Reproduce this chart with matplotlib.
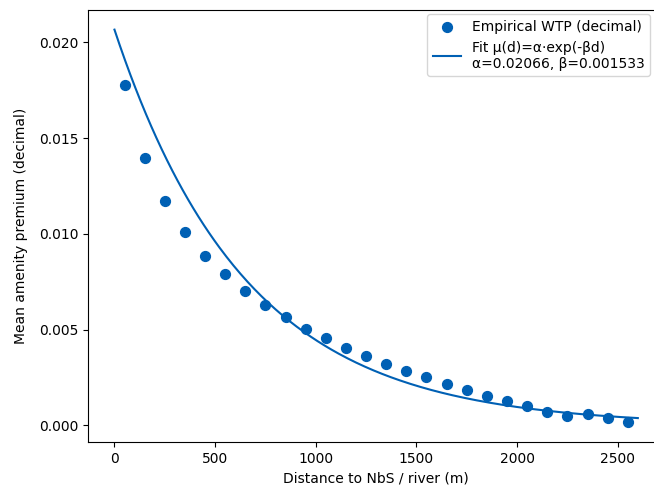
import matplotlib
matplotlib.use("Agg")
import matplotlib.pyplot as plt
import numpy as np

# binned distances (m) and empirical WTP
distance = [50, 150, 250, 350, 450, 550, 650, 750, 850, 950, 1050, 1150, 1250,
            1350, 1450, 1550, 1650, 1750, 1850, 1950, 2050, 2150, 2250, 2350,
            2450, 2550]
wtp = [0.01776, 0.01394, 0.01171, 0.01011, 0.00887, 0.00788, 0.00704,
       0.00627, 0.00568, 0.00505, 0.00455, 0.00406, 0.00361, 0.00323,
       0.00282, 0.00251, 0.00216, 0.00183, 0.00155, 0.00128, 0.00099,
       0.00072, 0.00049, 0.00061, 0.00039, 0.00016]

alpha = 0.02066
beta = 0.001533
d_max = 2600

blue = '#0060b4'

fig = plt.figure(figsize=(6.54, 4.88), dpi=100)
# axes runs past the right edge like the cropped original
ax = fig.add_axes([88.3 / 654, 46 / 488, (664 - 88.3) / 654, 432 / 488])

d = np.linspace(0, d_max, 300)
ax.scatter(distance, wtp, s=50, color=blue, label='Empirical WTP (decimal)', zorder=3)
ax.plot(d, alpha * np.exp(-beta * d), color=blue, lw=1.5,
        label='Fit μ(d)=α·exp(-βd)\nα=0.02066, β=0.001533')

ax.set_xlabel('Distance to NbS / river (m)')
ax.set_ylabel('Mean amenity premium (decimal)', labelpad=8)
ax.set_xticks([0, 500, 1000, 1500, 2000, 2500])
ax.set_yticks([0.0, 0.005, 0.010, 0.015, 0.020])
ax.yaxis.set_major_formatter(matplotlib.ticker.FormatStrFormatter('%.3f'))

ax.legend(loc='upper right', bbox_to_anchor=(650 / 654, 1 - 14 / 488),
          bbox_transform=fig.transFigure, borderaxespad=0)

fig.savefig('out.png', dpi=100)
